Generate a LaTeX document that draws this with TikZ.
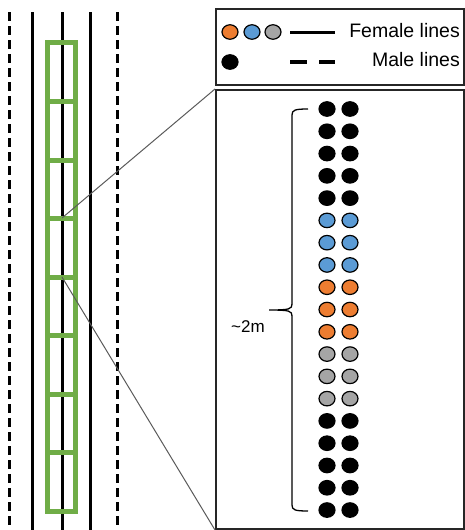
\documentclass[tikz,border=0pt]{standalone}
\usepackage{fontspec}
\setmainfont{Liberation Sans}
\usetikzlibrary{shapes.geometric}
\definecolor{leafgreen}{RGB}{112,173,71}
\definecolor{femorange}{RGB}{237,125,49}
\definecolor{femblue}{RGB}{91,155,213}
\definecolor{femgray}{RGB}{165,165,165}
\definecolor{zoomgray}{RGB}{90,90,90}

\begin{document}
\begin{tikzpicture}[x=1pt,y=-1pt,
  femline/.style={line width=3pt},
  maleline/.style={line width=3pt,dash pattern=on 9pt off 5pt},
  dot/.style={ellipse,draw=black,line width=1.2pt,inner sep=0pt,minimum width=16pt,minimum height=14.5pt},
  panel/.style={draw=black!85,line width=2pt,inner sep=0pt,anchor=north west},
  legtext/.style={anchor=east,inner sep=0pt,font=\fontsize{19.5}{22}\selectfont}]
\useasboundingbox (0,0) rectangle (465,530);
% rows of the field
\foreach \x in {9,117} \draw[maleline] (\x,12) -- (\x,530);
\foreach \x in {32,62,90} \draw[femline] (\x,12) -- (\x,530);
% sampled strip
\draw[leafgreen,line width=5pt] (47,42) rectangle (75.5,511);
\foreach \y in {101,160,218,277,335,394,452} \draw[leafgreen,line width=5pt] (47,\y) -- (75.5,\y);
\coordinate (cutA) at (62,218);
\coordinate (cutB) at (62,277);
% legend and detail panels
\node[panel,minimum width=248pt,minimum height=76pt] (legend) at (215,8) {};
\node[panel,minimum width=248pt,minimum height=439pt] (detail) at (215,89) {};
\draw[zoomgray,line width=1pt] (cutA) -- (detail.north west);
\draw[zoomgray,line width=1pt] (cutB) -- (detail.south west);
% legend
\node[dot,fill=femorange] (kf1) at (230,32) {};
\node[dot,fill=femblue] (kf2) at (252,32) {};
\node[dot,fill=femgray] (kf3) at (273,32) {};
\node[dot,fill=black] (km) at (230,62) {};
\draw[femline] (290,32) -- (335,32);
\draw[line width=3.2pt,dash pattern=on 17pt off 12pt] (290,62) -- (335,62);
\node[legtext] (kfemale) at (460,31) {Female lines};
\node[legtext] (kmale) at (460,60) {Male lines};
% plants in the strip
\foreach \r/\col in {1/black,2/black,3/black,4/black,5/black,
                     6/femblue,7/femblue,8/femblue,
                     9/femorange,10/femorange,11/femorange,
                     12/femgray,13/femgray,14/femgray,
                     15/black,16/black,17/black,18/black,19/black}{
  \node[dot,fill=\col] (p\r a) at (327,{109+(\r-1)*22.28}) {};
  \node[dot,fill=\col] (p\r b) at (350,{109+(\r-1)*22.28}) {};
}
% length bracket
\draw[line width=1.3pt] (308,109) .. controls (295,109) and (292,110) .. (292,115) -- (292,304)
  .. controls (292,309) and (290,310) .. (269,310)
  .. controls (290,310) and (292,311) .. (292,316) -- (292,505)
  .. controls (292,510) and (295,511) .. (308,511);
\node[font=\fontsize{17}{19}\selectfont,inner sep=0pt] (span) at (248,327) {\textasciitilde 2m};
\end{tikzpicture}
\end{document}
